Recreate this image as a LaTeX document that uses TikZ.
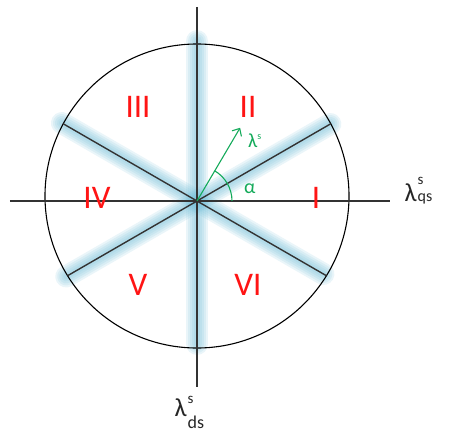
\documentclass[tikz,border=0pt]{standalone}
\usepackage{fontspec}
\setmainfont{Carlito}
\usetikzlibrary{arrows.meta}
\definecolor{glowblue}{RGB}{115,190,215}
\definecolor{sectred}{RGB}{255,20,20}
\definecolor{vecgreen}{RGB}{20,170,90}
\tikzset{
  sector/.style={text=sectred, font=\fontsize{33}{33}\selectfont},
  axislabel/.style={font=\fontsize{26}{26}\selectfont, text=black!85, inner sep=0pt, anchor=base west},
  axisline/.style={line width=1.4pt, black!80},
  veclabel/.style={text=vecgreen, font=\fontsize{20}{20}\selectfont, anchor=base west, inner sep=0pt},
}
% #1 sup raise, #2 sub raise, #3 sub size
\newcommand\supsub[4]{\kern1pt\rlap{\raisebox{#1}{\fontsize{15}{15}\selectfont s}}\raisebox{#2}{\fontsize{#3}{#3}\selectfont #4}}
\begin{document}
\begin{tikzpicture}[x=1pt,y=1pt]
  \useasboundingbox (-197,-238) rectangle (255,201);
  \coordinate (O) at (0,0);

  % glow on the sector borders
  \foreach \a/\b in {90:160/270:143, 30:154/210:151, 150:156/330:146}{
    \foreach \w in {22,18,14,10,6}
      \draw[line width=\w pt, glowblue, opacity=0.15, line cap=round] (\a) -- (\b);
  }

  \draw[line width=1.1pt] (0,5) circle [radius=152];

  % sector borders
  \draw[axisline] (30:154.4) -- (210:149.4);
  \draw[axisline] (150:154.4) -- (330:149.4);

  % axes
  \draw[axisline] (-187,0) -- (193,0);
  \draw[axisline] (0,194) -- (0,-186);

\node[sector] (s1) at (119,3) {I};
\node[sector] (s2) at (51,94) {II};
\node[sector] (s3) at (-59,94) {III};
\node[sector] (s4) at (-100,3) {IV};
\node[sector] (s5) at (-59,-84) {V};
\node[sector] (s6) at (51,-84) {VI};

\node[axislabel] (lq) at (207.5,0) {λ\supsub{17pt}{-0.5pt}{16}{qs}};
\node[axislabel] (ld) at (-22.5,-215.5) {λ\supsub{13pt}{-12pt}{18}{ds}};

  % flux vector
  \coordinate (tip) at (59.5:85);
  \draw[vecgreen, line width=1.1pt, -{Straight Barb[length=6pt,width=11pt]}] (O) -- (tip);
  \draw[vecgreen, line width=1.1pt] (35,0) arc [start angle=0, end angle=59.5, radius=35];

\node[veclabel] (lam) at (51,53) {λ\raisebox{0.9ex}{\fontsize{10}{10}\selectfont s}};
\node[veclabel] (alpha) at (47,8) {α};
\end{tikzpicture}
\end{document}
